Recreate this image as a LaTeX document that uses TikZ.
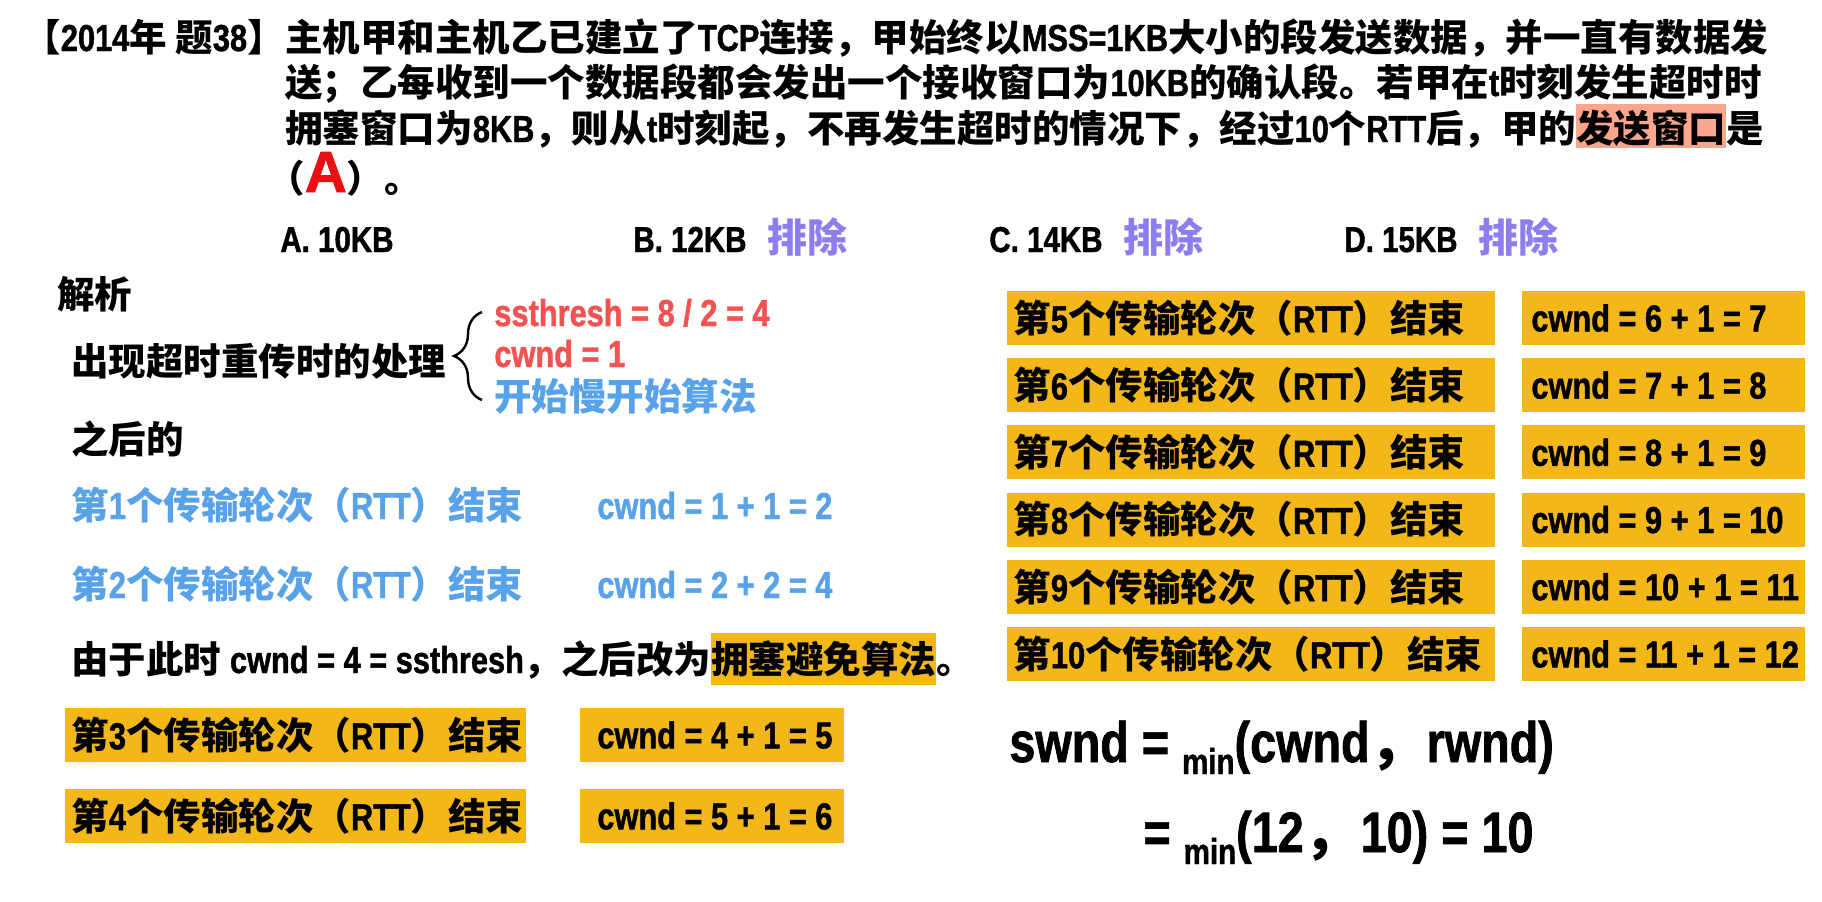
\documentclass[tikz,border=0pt]{standalone}
\usepackage{fontspec}
\setmainfont{Noto Sans CJK SC}
\newfontfamily\enfont{Liberation Sans}[FakeStretch=0.82, FakeBold=1.2]
\newfontfamily\widefont{Liberation Sans}[FakeBold=1.5]
\newcommand\en[1]{{\enfont #1}}
\newcommand\zh[1]{{\rmfamily #1}}
\newcommand\rttend[1]{第\en{#1}个传输轮次（\en{RTT}）结束}
\usetikzlibrary{positioning,decorations.pathreplacing}
\definecolor{boxgold}{RGB}{243,183,25}
\definecolor{slowblue}{RGB}{88,162,234}
\definecolor{hotred}{RGB}{242,82,82}
\definecolor{dropviolet}{RGB}{140,126,238}
\definecolor{markred}{RGB}{232,16,16}
\definecolor{peach}{RGB}{249,166,140}
\setlength\fboxsep{0pt}

\begin{document}
\begin{tikzpicture}[x=0.5pt, y=-0.5pt,
every node/.style={inner sep=0pt, font=\bfseries\fontsize{18.75}{22}\selectfont},
txt/.style={anchor=base west},
opt/.style={anchor=base west, font=\bfseries\fontsize{18}{22}\selectfont\enfont},
drop/.style={text=dropviolet, font=\bfseries\fontsize{20}{22}\selectfont},
rttbox/.style={fill=boxgold, anchor=west, inner xsep=3pt, minimum height=27pt},
cwbox/.style={fill=boxgold, anchor=west, inner xsep=#1, minimum height=27pt},
big/.style={anchor=base west, font=\bfseries\fontsize{28.5}{30}\selectfont\enfont}]
\fill[white] (0,0) rectangle (1822,901);
\useasboundingbox (0,0) rectangle (1822,901);

\node [anchor=base east] (head) at (285,51) {【\en{2014}年 题\en{38}】};
\node [txt] (t_1) at (285,51) {主机甲和主机乙已建立了\en{TCP}连接，甲始终以\en{MSS=1KB}大小的段发送数据，并一直有数据发};
\node [txt] (t_2) at (285,96) {送；乙每收到一个数据段都会发出一个接收窗口为\en{10KB}的确认段。若甲在\en{t}时刻发生超时时};
\node [txt] (t_3) at (285,142) {拥塞窗口为\en{8KB}，则从\en{t}时刻起，不再发生超时的情况下，经过\en{10}个\en{RTT}后，甲的\colorbox{peach}{\rule[-.15em]{0pt}{1.16em}发送窗口}是};
\node [txt] (t_4) at (267,192) {（{\widefont\color{markred}\fontsize{29}{29}\selectfont A}）。};

\node [opt] (o_a) at (280,252) {A. 10KB};
\node [opt] (o_b) at (633,252) {B. 12KB};
\node [opt] (o_c) at (989,252) {C. 14KB};
\node [opt] (o_d) at (1344,252) {D. 15KB};
\node [drop, base right=10pt of o_b] (x_b) {排除};
\node [drop, base right=10pt of o_c] (x_c) {排除};
\node [drop, base right=10pt of o_d] (x_d) {排除};

\node [txt] (jx) at (57,308) {解析};
\node [txt] (timeout) at (71,375) {出现超时重传时的处理};
\draw [decorate, decoration={brace, amplitude=14pt}, line width=1.2pt] (482,400) -- (482,312);
\node [txt, text=hotred] (ss) at (494,326) {\en{ssthresh = 8 / 2 = 4}};
\node [txt, text=hotred] (c_0) at (494,367) {\en{cwnd = 1}};
\node [txt, text=slowblue] (slow) at (494,410) {开始慢开始算法};
\node [txt] (after) at (71,453) {之后的};
\node [txt, text=slowblue] (r_1) at (71,519) {\rttend{1}};
\node [txt, text=slowblue] (c_1) at (597,519) {\en{cwnd = 1 + 1 = 2}};
\node [txt, text=slowblue] (r_2) at (71,598) {\rttend{2}};
\node [txt, text=slowblue] (c_2) at (597,598) {\en{cwnd = 2 + 2 = 4}};
\node [txt] (since) at (71,673) {由于此时 \en{cwnd = 4 = ssthresh}，之后改为\colorbox{boxgold}{\rule[-.33em]{0pt}{1.4em}拥塞避免算法}。};

\node [rttbox] (r_3) at (65,735) {\makebox[224.5pt][l]{\rttend{3}}};
\node [cwbox=8.5pt] (c_3) at (580,735) {\makebox[115pt][l]{\en{cwnd = 4 + 1 = 5}}};
\node [rttbox] (r_4) at (65,816) {\makebox[224.5pt][l]{\rttend{4}}};
\node [cwbox=8.5pt] (c_4) at (580,816) {\makebox[115pt][l]{\en{cwnd = 5 + 1 = 6}}};

\foreach \n/\w [count=\i from 0] in {5/6 + 1 = 7, 6/7 + 1 = 8, 7/8 + 1 = 9, 8/9 + 1 = 10, 9/10 + 1 = 11, 10/11 + 1 = 12}{
\node [rttbox] (r_\n) at (1007,318+67.2*\i) {\makebox[238pt][l]{\rttend{\n}}};
\node [cwbox=4.5pt] (c_\n) at (1522,318+67.2*\i) {\makebox[132.5pt][l]{\en{cwnd = \w}}};
}

\node [big] (swnd) at (1009,762) {swnd = \raisebox{-6pt}{\fontsize{18}{18}\selectfont min}(cwnd\zh{，}rwnd)};
\node [big] (swnd_2) at (1143,852) {= \raisebox{-6pt}{\fontsize{18}{18}\selectfont min}(12\zh{，}10) = 10};
\end{tikzpicture}
\end{document}
